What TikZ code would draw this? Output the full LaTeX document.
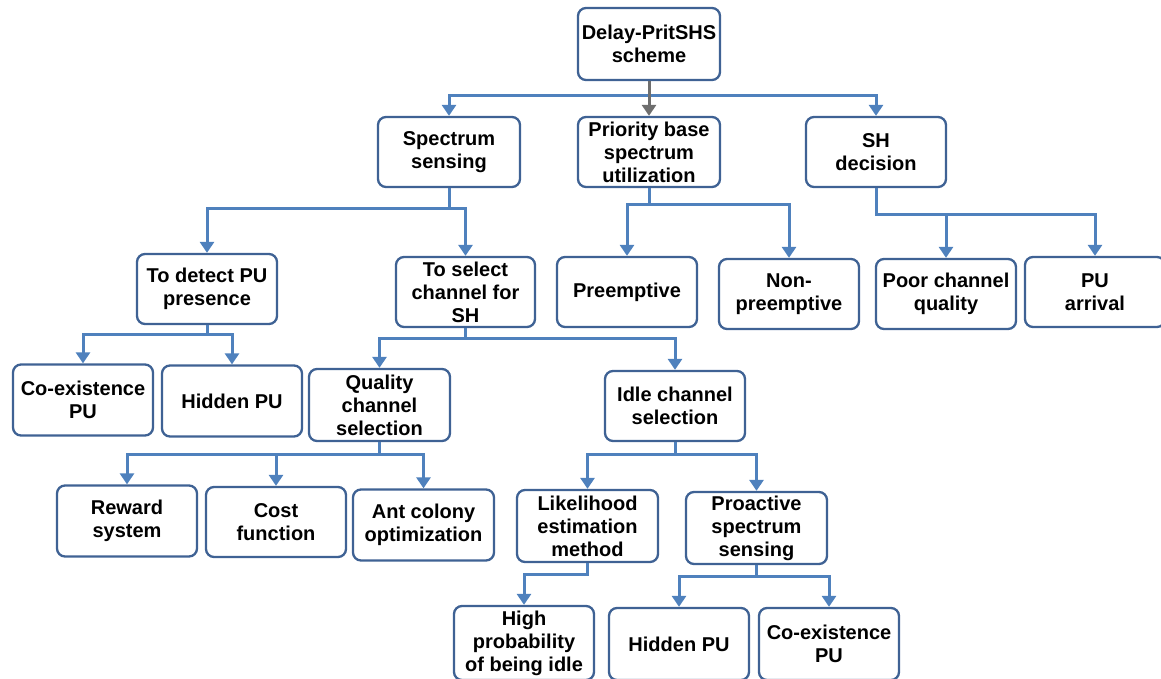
\documentclass[tikz,border=0pt]{standalone}
\usepackage{fontspec}
\setmainfont{Liberation Sans}
\usetikzlibrary{arrows.meta}
\definecolor{conn}{HTML}{4F81BD}
\definecolor{bord}{HTML}{3F6294}
\definecolor{grayarr}{HTML}{6E6E6E}
\tikzset{
  box/.style={draw=bord, line width=2.3pt, rounded corners=8pt, fill=white,
    minimum width=140pt, minimum height=70pt, align=center, inner sep=1pt,
    font=\fontsize{20}{23}\selectfont\bfseries},
  conn/.style={draw=conn, line width=3pt, -{Triangle[width=14pt,length=11pt]}},
  grayconn/.style={draw=grayarr, line width=3pt, -{Triangle[width=14pt,length=11pt]}}
}
\begin{document}
\begin{tikzpicture}[x=1pt,y=-1pt]
\useasboundingbox (0,0) rectangle (1161,678);
% nodes
\node[box, minimum width=142pt, minimum height=72pt] (root) at (649,44) {Delay-PritSHS\\scheme};
\node[box, minimum width=142pt] (ss) at (449,152) {Spectrum\\sensing};
\node[box, minimum width=142pt] (pb) at (649,152) {Priority base\\spectrum\\utilization};
\node[box] (shd) at (876,152) {SH\\decision};
\node[box] (td) at (207,289) {To detect PU\\presence};
\node[box, minimum width=139pt] (tsel) at (465.5,292) {To select\\channel for\\SH};
\node[box] (pre) at (627,292) {\raisebox{-2pt}{Preemptive}};
\node[box] (np) at (789,294) {Non-\\preemptive};
\node[box] (pcq) at (946,294) {Poor channel\\quality};
\node[box] (pua) at (1095,292) {PU\\arrival};
\node[box, minimum height=71pt] (coex) at (83,400) {Co-existence\\PU};
\node[box, minimum height=71pt] (hid) at (232,401) {Hidden PU};
\node[box, minimum width=141pt, minimum height=72pt] (qcs) at (379.5,405) {Quality\\channel\\selection};
\node[box] (ics) at (675,406) {Idle channel\\selection};
\node[box, minimum height=71pt] (rew) at (127,521) {Reward\\system};
\node[box] (cost) at (276,522) {Cost\\function};
\node[box, minimum width=141pt, minimum height=71pt] (ant) at (423.5,525) {Ant colony\\optimization};
\node[box, minimum width=141pt, minimum height=72pt] (lik) at (587.5,526) {Likelihood\\estimation\\method};
\node[box, minimum width=141pt, minimum height=72pt] (pro) at (756.5,528) {Proactive\\spectrum\\sensing};
\node[box, minimum height=74pt] (hp) at (524,643) {High\\probability\\of being idle};
\node[box, minimum height=72pt] (hid2) at (679,644) {Hidden PU};
\node[box, minimum height=72pt] (coex2) at (829,644) {Co-existence\\PU};
% connectors
\draw[conn] (root.south) -- ++(0,14) -| (ss.north);
\draw[conn] (root.south) -- ++(0,14) -| (shd.north);
\draw[grayconn] (root.south) -- (pb.north);
\draw[conn] (ss.south) -- ++(0,20) -| (td.north);
\draw[conn] (ss.south) -- ++(0,20) -| (tsel.north);
\draw[conn] (pb.south) -- ++(0,16) -| (pre.north);
\draw[conn] (pb.south) -- ++(0,16) -| (np.north);
\draw[conn] (shd.south) -- ++(0,26) -| (pcq.north);
\draw[conn] (shd.south) -- ++(0,26) -| (pua.north);
\draw[conn] (td.south) -- ++(0,9) -| (coex.north);
\draw[conn] (td.south) -- ++(0,9) -| (hid.north);
\draw[conn] (tsel.south) -- ++(0,10) -| (qcs.north);
\draw[conn] (tsel.south) -- ++(0,10) -| (ics.north);
\draw[conn] (qcs.south) -- ++(0,12) -| (rew.north);
\draw[conn] (qcs.south) -- ++(0,12) -| (cost.north);
\draw[conn] (qcs.south) -- ++(0,12) -| (ant.north);
\draw[conn] (ics.south) -- ++(0,12) -| (lik.north);
\draw[conn] (ics.south) -- ++(0,12) -| (pro.north);
\draw[conn] (lik.south) -- ++(0,11) -| (hp.north);
\draw[conn] (pro.south) -- ++(0,11) -| (hid2.north);
\draw[conn] (pro.south) -- ++(0,11) -| (coex2.north);
\end{tikzpicture}
\end{document}
